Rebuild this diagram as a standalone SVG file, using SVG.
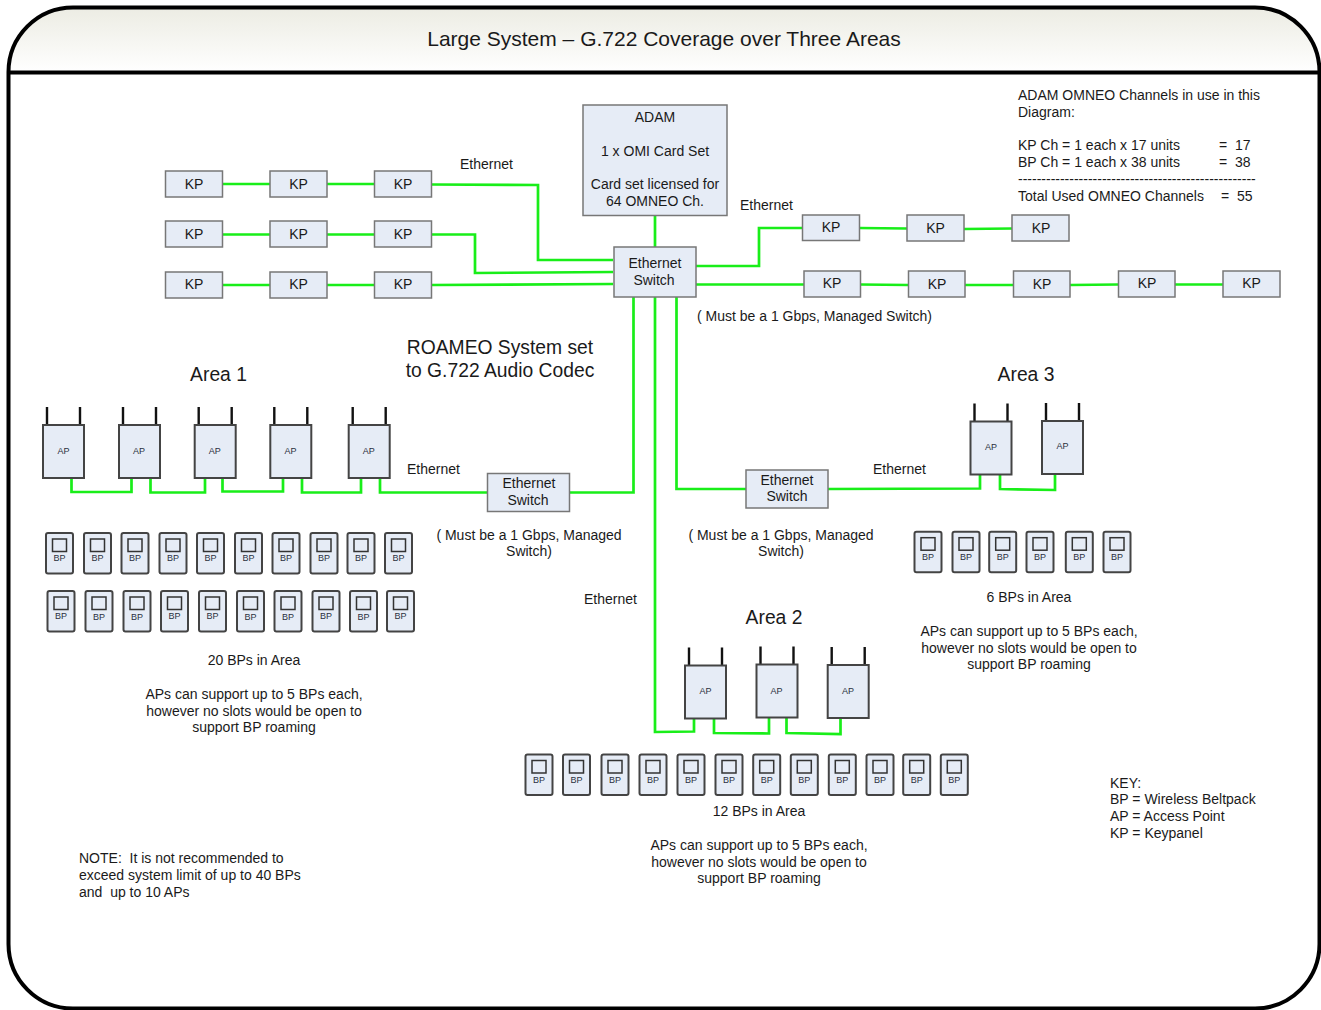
<svg xmlns="http://www.w3.org/2000/svg" width="1321" height="1010" viewBox="0 0 1321 1010">
<defs>
<linearGradient id="hdr" x1="0" y1="0" x2="0" y2="1"><stop offset="0" stop-color="#ecece3"/><stop offset="1" stop-color="#ffffff"/></linearGradient>
<g id="bpbody"><rect x="-13.500" y="0" width="27" height="40.500" rx="2" class="box"/><rect x="-7" y="6" width="14" height="12.500" class="scr"/></g>
<g id="apbody"><path d="M4 0V-18M37 0V-18" class="ant"/><rect x="0" y="0" width="41" height="53" class="box"/></g>
</defs>
<style>
text{font-family:"Liberation Sans",Arial,sans-serif;fill:#1a1a1a;font-size:14px;white-space:pre}
.m{text-anchor:middle}
.t{font-size:21px}
.a{font-size:19.300px}
.s{font-size:9px;fill:#2a3040}
.box{fill:#e6ecf6;stroke:#444;stroke-width:2}
.scr{fill:#e6ecf6;stroke:#333;stroke-width:1.500}
.ant{fill:none;stroke:#111;stroke-width:2.400}
.kp{fill:#e6ecf6;stroke:#777;stroke-width:1.500}
.sw{fill:#e6ecf6;stroke:#777;stroke-width:1.500}
#connectors path{fill:none;stroke:#19ee19;stroke-width:2.700}
</style>
<rect width="1321" height="1010" fill="#fff"/>
<g id="frame">
<path d="M8.500 72.500V72A64.500 64.500 0 0 1 73 7.500H1255A64.500 64.500 0 0 1 1319.500 72V72.500Z" fill="url(#hdr)"/>
<rect x="8.500" y="7.500" width="1311" height="1001" rx="64.500" fill="none" stroke="#000" stroke-width="4"/>
<path d="M8.500 72.500H1319.500" stroke="#000" stroke-width="4"/>
<text x="664" y="46" class="t m">Large System – G.722 Coverage over Three Areas</text>
</g>
<g id="connectors">
<path d="M655 215V247"/>
<path d="M222 184H270M327 184H375M431 184.500L538 185V260H613"/>
<path d="M222 234.500H270M327 234.500H375M431 234.500H475V273L613 272"/>
<path d="M222 285H270M327 285H375M431 285L613 284"/>
<path d="M696 266H759V228H802M859 228L907 228.500M964 229L1012 228.500"/>
<path d="M696 284.500H804M860 284.500L908 285M965 285H1013M1070 285L1118 284.500M1175 284.500H1223"/>
<path d="M633.500 297V492.500H570"/>
<path d="M487 492.500H380V478M361 478V492.500H302V478M283 478V491.500H222.500V478M205 478V492.500H150.500V478M131.500 478V492H71.500V478"/>
<path d="M676.500 297V489H746M828 489L980 488.500V474M1000 474V489L1055 490V474"/>
<path d="M655 297V732L694 731.500V718M714 718V733L769 733.500V718M786.500 717V733L840.500 734V718"/>
</g>
<g id="adam"><rect x="583" y="105" width="144" height="110.500" class="sw"/><text x="655" y="122" class="m">ADAM</text><text x="655" y="156" class="m">1 x OMI Card Set</text><text x="655" y="189" class="m">Card set licensed for</text><text x="655" y="206" class="m">64 OMNEO Ch.</text></g>
<g id="switch-main"><rect x="614" y="247" width="82" height="50" class="sw"/><text x="655" y="268" class="m">Ethernet</text><text x="654" y="285" class="m">Switch</text></g>
<g id="switch-area1"><rect x="487.500" y="473.500" width="82" height="38" class="sw"/><text x="529" y="488" class="m">Ethernet</text><text x="528" y="505" class="m">Switch</text></g>
<g id="switch-area3"><rect x="746" y="470" width="82" height="38" class="sw"/><text x="787" y="485" class="m">Ethernet</text><text x="787" y="501" class="m">Switch</text></g>
<g id="kp1"><rect x="165.500" y="171" width="57" height="26" class="kp"/><text x="194" y="189" class="m">KP</text></g>
<g id="kp2"><rect x="270" y="171" width="57" height="26" class="kp"/><text x="298.500" y="189" class="m">KP</text></g>
<g id="kp3"><rect x="374.500" y="171" width="57" height="26" class="kp"/><text x="403" y="189" class="m">KP</text></g>
<g id="kp4"><rect x="165.500" y="221" width="57" height="26" class="kp"/><text x="194" y="239" class="m">KP</text></g>
<g id="kp5"><rect x="270" y="221" width="57" height="26" class="kp"/><text x="298.500" y="239" class="m">KP</text></g>
<g id="kp6"><rect x="374.500" y="221" width="57" height="26" class="kp"/><text x="403" y="239" class="m">KP</text></g>
<g id="kp7"><rect x="165.500" y="272" width="57" height="26" class="kp"/><text x="194" y="289" class="m">KP</text></g>
<g id="kp8"><rect x="270" y="272" width="57" height="26" class="kp"/><text x="298.500" y="289" class="m">KP</text></g>
<g id="kp9"><rect x="374.500" y="272" width="57" height="26" class="kp"/><text x="403" y="289" class="m">KP</text></g>
<g id="kp10"><rect x="802.500" y="215" width="57" height="25.500" class="kp"/><text x="831" y="232" class="m">KP</text></g>
<g id="kp11"><rect x="907" y="215" width="57" height="26" class="kp"/><text x="935.500" y="233" class="m">KP</text></g>
<g id="kp12"><rect x="1012" y="215" width="57" height="26" class="kp"/><text x="1041" y="233" class="m">KP</text></g>
<g id="kp13"><rect x="804" y="271" width="56.500" height="26" class="kp"/><text x="832" y="288" class="m">KP</text></g>
<g id="kp14"><rect x="908.500" y="271" width="56.500" height="26" class="kp"/><text x="937" y="289" class="m">KP</text></g>
<g id="kp15"><rect x="1013.500" y="271" width="56.500" height="26" class="kp"/><text x="1042" y="289" class="m">KP</text></g>
<g id="kp16"><rect x="1118.500" y="271" width="56.500" height="26" class="kp"/><text x="1147" y="288" class="m">KP</text></g>
<g id="kp17"><rect x="1223" y="271" width="57" height="26" class="kp"/><text x="1251.500" y="288" class="m">KP</text></g>

<g id="ap1"><use href="#apbody" x="43" y="425"/><text x="63.500" y="454" class="s m">AP</text></g>
<g id="ap2"><use href="#apbody" x="119" y="425"/><text x="139" y="454" class="s m">AP</text></g>
<g id="ap3"><use href="#apbody" x="194.700" y="425"/><text x="214.700" y="454" class="s m">AP</text></g>
<g id="ap4"><use href="#apbody" x="270.300" y="425"/><text x="290.500" y="454" class="s m">AP</text></g>
<g id="ap5"><use href="#apbody" x="348.700" y="425"/><text x="368.700" y="454" class="s m">AP</text></g>
<g id="ap6"><use href="#apbody" x="685" y="665.500"/><text x="705.500" y="694" class="s m">AP</text></g>
<g id="ap7"><use href="#apbody" x="756.500" y="664.500"/><text x="776.500" y="694" class="s m">AP</text></g>
<g id="ap8"><use href="#apbody" x="827.700" y="665"/><text x="848" y="694" class="s m">AP</text></g>
<g id="ap9"><use href="#apbody" x="970.500" y="421.500"/><text x="991" y="450" class="s m">AP</text></g>
<g id="ap10"><use href="#apbody" x="1042" y="421"/><text x="1062.500" y="449" class="s m">AP</text></g>

<g id="bp1"><use href="#bpbody" x="59.500" y="533"/><text x="59.500" y="561" class="s m">BP</text></g>
<g id="bp2"><use href="#bpbody" x="97.500" y="533"/><text x="97.500" y="561" class="s m">BP</text></g>
<g id="bp3"><use href="#bpbody" x="135" y="533"/><text x="135" y="561" class="s m">BP</text></g>
<g id="bp4"><use href="#bpbody" x="173" y="533"/><text x="173" y="561" class="s m">BP</text></g>
<g id="bp5"><use href="#bpbody" x="210.500" y="533"/><text x="210.500" y="561" class="s m">BP</text></g>
<g id="bp6"><use href="#bpbody" x="248.500" y="533"/><text x="248.500" y="561" class="s m">BP</text></g>
<g id="bp7"><use href="#bpbody" x="286" y="533"/><text x="286" y="561" class="s m">BP</text></g>
<g id="bp8"><use href="#bpbody" x="324" y="533"/><text x="324" y="561" class="s m">BP</text></g>
<g id="bp9"><use href="#bpbody" x="361" y="533"/><text x="361" y="561" class="s m">BP</text></g>
<g id="bp10"><use href="#bpbody" x="398.500" y="533"/><text x="398.500" y="561" class="s m">BP</text></g>
<g id="bp11"><use href="#bpbody" x="61" y="591"/><text x="61" y="619" class="s m">BP</text></g>
<g id="bp12"><use href="#bpbody" x="99" y="591"/><text x="99" y="620" class="s m">BP</text></g>
<g id="bp13"><use href="#bpbody" x="137" y="591"/><text x="137" y="620" class="s m">BP</text></g>
<g id="bp14"><use href="#bpbody" x="174.500" y="591"/><text x="174.500" y="619" class="s m">BP</text></g>
<g id="bp15"><use href="#bpbody" x="212.500" y="591"/><text x="212.500" y="619" class="s m">BP</text></g>
<g id="bp16"><use href="#bpbody" x="250.500" y="591"/><text x="250.500" y="620" class="s m">BP</text></g>
<g id="bp17"><use href="#bpbody" x="288" y="591"/><text x="288" y="620" class="s m">BP</text></g>
<g id="bp18"><use href="#bpbody" x="326" y="591"/><text x="326" y="619" class="s m">BP</text></g>
<g id="bp19"><use href="#bpbody" x="363.500" y="591"/><text x="363.500" y="620" class="s m">BP</text></g>
<g id="bp20"><use href="#bpbody" x="400.500" y="591"/><text x="400.500" y="619" class="s m">BP</text></g>

<g id="bp21"><use href="#bpbody" x="539" y="754.500"/><text x="539" y="783" class="s m">BP</text></g>
<g id="bp22"><use href="#bpbody" x="576.500" y="754.500"/><text x="576.500" y="783" class="s m">BP</text></g>
<g id="bp23"><use href="#bpbody" x="615" y="754.500"/><text x="615" y="783" class="s m">BP</text></g>
<g id="bp24"><use href="#bpbody" x="653" y="754.500"/><text x="653" y="783" class="s m">BP</text></g>
<g id="bp25"><use href="#bpbody" x="691" y="754.500"/><text x="691" y="783" class="s m">BP</text></g>
<g id="bp26"><use href="#bpbody" x="729" y="754.500"/><text x="729" y="783" class="s m">BP</text></g>
<g id="bp27"><use href="#bpbody" x="766.700" y="754.500"/><text x="766.700" y="783" class="s m">BP</text></g>
<g id="bp28"><use href="#bpbody" x="804.300" y="754.500"/><text x="804.300" y="783" class="s m">BP</text></g>
<g id="bp29"><use href="#bpbody" x="842.300" y="754.500"/><text x="842.300" y="783" class="s m">BP</text></g>
<g id="bp30"><use href="#bpbody" x="880" y="754.500"/><text x="880" y="783" class="s m">BP</text></g>
<g id="bp31"><use href="#bpbody" x="916.700" y="754.500"/><text x="916.700" y="783" class="s m">BP</text></g>
<g id="bp32"><use href="#bpbody" x="954.300" y="754.500"/><text x="954.300" y="783" class="s m">BP</text></g>

<g id="bp33"><use href="#bpbody" x="928" y="531.700"/><text x="928" y="560" class="s m">BP</text></g>
<g id="bp34"><use href="#bpbody" x="966" y="531.700"/><text x="966" y="560" class="s m">BP</text></g>
<g id="bp35"><use href="#bpbody" x="1002.700" y="531.700"/><text x="1002.700" y="560" class="s m">BP</text></g>
<g id="bp36"><use href="#bpbody" x="1040" y="531.700"/><text x="1040" y="560" class="s m">BP</text></g>
<g id="bp37"><use href="#bpbody" x="1079.300" y="531.700"/><text x="1079.300" y="560" class="s m">BP</text></g>
<g id="bp38"><use href="#bpbody" x="1117" y="531.700"/><text x="1117" y="560" class="s m">BP</text></g>

<g id="labels">
<text x="460" y="169">Ethernet</text>
<text x="740" y="210">Ethernet</text>
<text x="407" y="474">Ethernet</text>
<text x="873" y="474">Ethernet</text>
<text x="584" y="604">Ethernet</text>
<text x="697" y="321">( Must be a 1 Gbps, Managed Switch)</text>
<text x="529" y="540" class="m">( Must be a 1 Gbps, Managed</text><text x="529" y="556" class="m">Switch)</text>
<text x="781" y="540" class="m">( Must be a 1 Gbps, Managed</text><text x="781" y="556" class="m">Switch)</text>
<text x="500" y="354" class="a m">ROAMEO System set</text><text x="500" y="377" class="a m">to G.722 Audio Codec</text>
<text x="218.500" y="381" class="a m">Area 1</text>
<text x="774" y="624" class="a m">Area 2</text>
<text x="1026" y="381" class="a m">Area 3</text>
<text x="1018" y="100">ADAM OMNEO Channels in use in this</text><text x="1018" y="117">Diagram:</text>
<text x="1018" y="150">KP Ch = 1 each x 17 units</text><text x="1219" y="150">=  17</text>
<text x="1018" y="167">BP Ch = 1 each x 38 units</text><text x="1219" y="167">=  38</text>
<text x="1018" y="184">---------------------------------------------------</text>
<text x="1018" y="201">Total Used OMNEO Channels</text><text x="1221" y="201">=  55</text>
<text x="254" y="665" class="m">20 BPs in Area</text>
<text x="254" y="699" class="m">APs can support up to 5 BPs each,</text><text x="254" y="716" class="m">however no slots would be open to</text><text x="254" y="732" class="m">support BP roaming</text>
<text x="1029" y="602" class="m">6 BPs in Area</text>
<text x="1029" y="636" class="m">APs can support up to 5 BPs each,</text><text x="1029" y="653" class="m">however no slots would be open to</text><text x="1029" y="669" class="m">support BP roaming</text>
<text x="759" y="816" class="m">12 BPs in Area</text>
<text x="759" y="850" class="m">APs can support up to 5 BPs each,</text><text x="759" y="867" class="m">however no slots would be open to</text><text x="759" y="883" class="m">support BP roaming</text>
<text x="79" y="863">NOTE:  It is not recommended to</text><text x="79" y="880">exceed system limit of up to 40 BPs</text><text x="79" y="897">and  up to 10 APs</text>
<text x="1110" y="788">KEY:</text><text x="1110" y="804">BP = Wireless Beltpack</text><text x="1110" y="821">AP = Access Point</text><text x="1110" y="838">KP = Keypanel</text>
</g>
</svg>
